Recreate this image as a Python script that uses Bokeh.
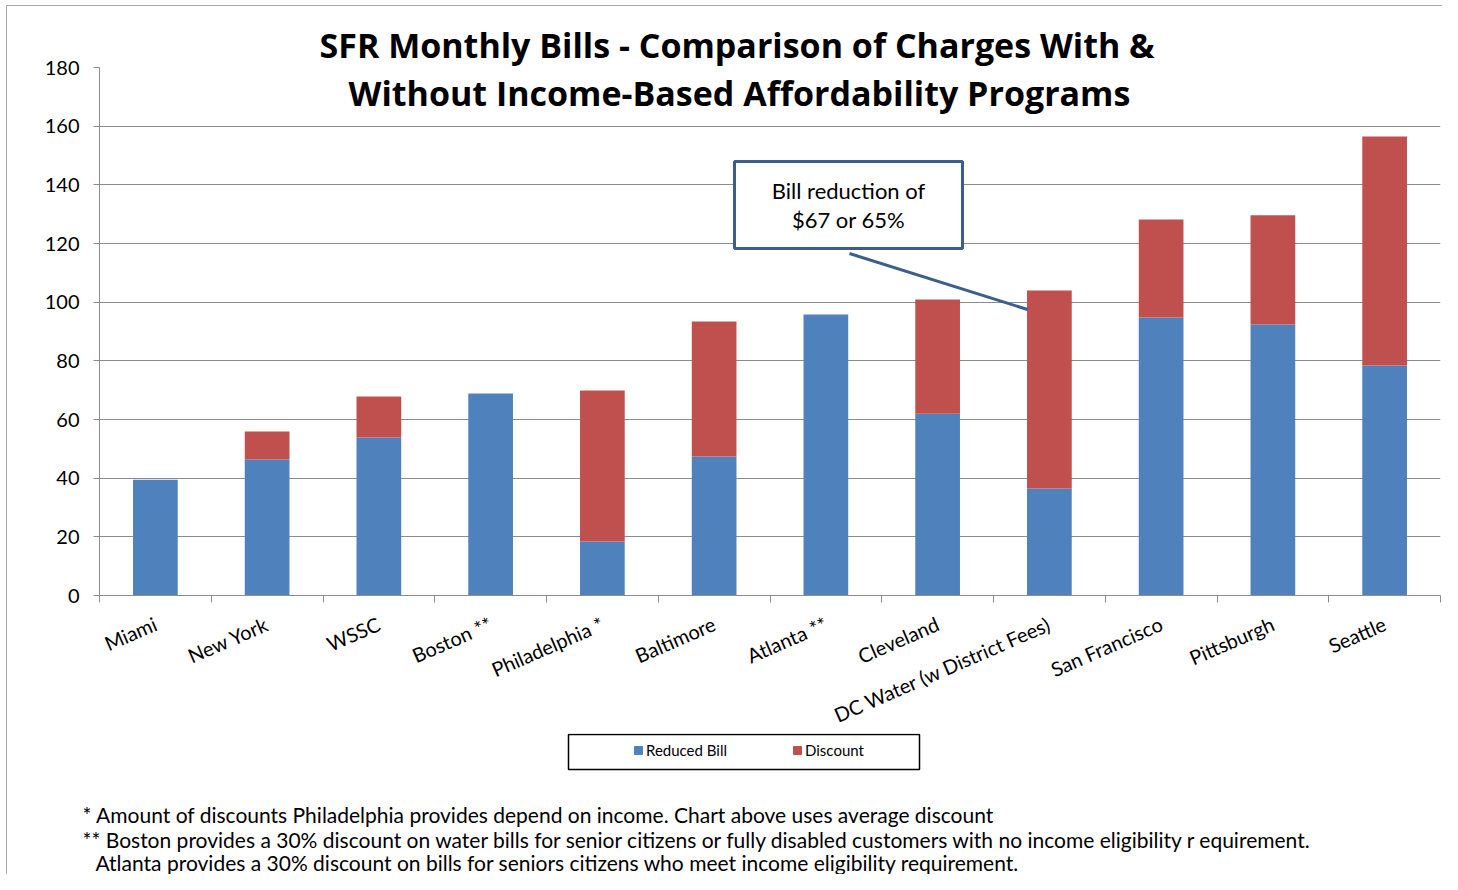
from bokeh.plotting import figure
from bokeh.models import (FixedTicker, LinearAxis, Range1d, Legend, LegendItem, Label, Title,
                          BoxAnnotation, Arrow, ColumnDataSource, Grid)
from bokeh.layouts import column
from bokeh.embed import file_html
from bokeh.resources import INLINE

# ---------------- data ----------------
cities = ["Miami", "New York", "WSSC", "Boston **", "Philadelphia *", "Baltimore",
          "Atlanta **", "Cleveland", "DC Water (w District Fees)", "San Francisco",
          "Pittsburgh", "Seattle"]
reduced_bill = [39.5, 46.4, 53.9, 68.9, 18.4, 47.4, 95.8, 62.0, 36.5, 94.8, 92.4, 78.4]
discount = [0.0, 9.5, 13.9, 0.0, 51.5, 46.0, 0.0, 38.9, 67.5, 33.4, 37.2, 78.1]
y_ticks = [0, 20, 40, 60, 80, 100, 120, 140, 160, 180]
series_names = ["Reduced Bill", "Discount"]
series_colors = ["#4F81BD", "#C0504D"]
title_lines = ["SFR Monthly Bills - Comparison of Charges With &",
               "Without Income-Based Affordability Programs"]
callout_lines = ["Bill reduction of", "$67 or 65%"]
footnotes = ["* Amount of discounts Philadelphia provides depend on income. Chart above uses average discount",
             "** Boston provides a 30% discount on water bills for senior citizens or fully disabled customers with no income eligibility r equirement.",
             "Atlanta provides a 30% discount on bills for seniors citizens who meet income eligibility requirement."]

FONT = "Lato"
TFONT = "Open Sans"
GRID = "#8c8c8c"
W = 1442
MAIN_BOTTOM = 733   # bottom of main chart figure (page px)
TOTAL_H = 874

n = len(cities)
idx = list(range(n))
src = ColumnDataSource(dict(x=idx, reduced=reduced_bill, discount=discount))

# ---------------- main chart ----------------
FL, FR, FT, FB = 99, 1440, 67, 595
p = figure(width=W, height=MAIN_BOTTOM, output_backend="svg", toolbar_location=None,
           x_range=Range1d(-0.5, n - 0.5), y_range=Range1d(0, 180),
           x_axis_type=None, y_axis_type=None,
           min_border_left=FL, min_border_right=W - FR, min_border_top=FT,
           min_border_bottom=MAIN_BOTTOM - FB)
p.outline_line_color = None
p.background_fill_color = "white"
p.border_fill_alpha = 0

def xd(sx):
    return (sx - FL) / (FR - FL) * n - 0.5

def yd(sy):
    return (FB - sy) / (FB - FT) * 180

p.add_layout(Title(text=title_lines[0], align="left", offset=220, vertical_align="bottom",
                   standoff=0, text_font=TFONT, text_font_style="bold",
                   text_font_size="34px", text_color="black"), "above")

yax = LinearAxis(ticker=FixedTicker(ticks=y_ticks, minor_ticks=[]))
yax.axis_line_color = GRID
yax.major_tick_line_color = GRID
yax.major_tick_out = 6
yax.major_tick_in = 0
yax.major_label_standoff = 14
yax.major_label_text_font = FONT
yax.major_label_text_font_size = "20px"
yax.major_label_text_color = "black"
p.add_layout(yax, "left")

xax = LinearAxis(ticker=FixedTicker(ticks=idx, minor_ticks=[i - 0.5 for i in range(n + 1)]))
xax.major_label_overrides = {i: c for i, c in zip(idx, cities)}
xax.axis_line_color = GRID
xax.major_tick_line_color = None
xax.major_tick_out = 0
xax.major_tick_in = 0
xax.minor_tick_line_color = GRID
xax.minor_tick_out = 7
xax.minor_tick_in = 0
xax.major_label_orientation = 0.41
xax.major_label_standoff = 20
xax.major_label_text_font = FONT
xax.major_label_text_font_size = "20px"
xax.major_label_text_color = "black"
# keep the axis panel compact so the plot frame keeps its full height
xax.axis_label = " "
xax.axis_label_text_font_size = "1px"
xax.axis_label_standoff = -16
p.add_layout(xax, "below")

p.add_layout(Grid(dimension=1, ticker=FixedTicker(ticks=y_ticks), grid_line_color=GRID))

rs = p.vbar_stack(["reduced", "discount"], x="x", width=0.4, source=src,
                  color=series_colors, line_color=None)

p.add_layout(Label(x=xd(739), y=yd(92), text=title_lines[1], text_align="center",
                   text_baseline="middle", text_font=TFONT, text_font_style="bold",
                   text_font_size="34px", text_color="black"))

# callout
p.add_layout(Arrow(end=None, x_start=xd(849), y_start=yd(253), x_end=xd(1027), y_end=yd(309),
                   line_color="#3B5E8C", line_width=3))
p.add_layout(BoxAnnotation(left=xd(734), right=xd(962), top=yd(161), bottom=yd(248),
                           fill_color="white", fill_alpha=1, line_color="#3B5E8C",
                           line_alpha=1, line_width=3, level="overlay"))
for line, sy in zip(callout_lines, [190, 219]):
    p.add_layout(Label(x=xd(848), y=yd(sy), text=line, text_align="center",
                       text_baseline="middle", text_font=FONT, text_font_size="22px",
                       text_color="black", level="overlay"))

# ---------------- footer: legend + footnotes ----------------
foot = figure(width=W, height=TOTAL_H - MAIN_BOTTOM, output_backend="svg", toolbar_location=None,
              x_range=Range1d(0, W), y_range=Range1d(TOTAL_H, MAIN_BOTTOM),
              x_axis_type=None, y_axis_type=None, min_border=0)
foot.outline_line_color = None
foot.background_fill_alpha = 0
foot.border_fill_alpha = 0
foot.xgrid.visible = False
foot.ygrid.visible = False

swatch = ColumnDataSource(dict(x=[float("nan")], y=[float("nan")]))
lr = [foot.rect(x="x", y="y", width=1, height=1, source=swatch, color=c) for c in series_colors]
legend = Legend(items=[LegendItem(label=series_names[i], renderers=[lr[i]]) for i in range(2)],
                orientation="horizontal", location=(633, TOTAL_H - 751 - 8),
                padding=0, margin=0, spacing=65, label_standoff=3,
                glyph_width=10, glyph_height=10, label_height=16,
                label_text_font=FONT, label_text_font_size="15px", label_text_color="black",
                border_line_color=None, background_fill_alpha=0)
foot.add_layout(legend)
foot.add_layout(BoxAnnotation(left=568, right=919, top=734, bottom=769,
                              fill_alpha=0, line_color="black", line_alpha=1, line_width=1.5))
for line, sx, sy in zip(footnotes, [82, 82, 95], [814, 839, 862]):
    foot.add_layout(Label(x=sx, y=sy, text=line, text_align="left",
                          text_baseline="middle", text_font=FONT, text_font_size="21px",
                          text_color="black"))

border_bg = ("linear-gradient(#a8a8a8,#a8a8a8) 6px 5px / 1px 100% no-repeat, "
             "linear-gradient(#a8a8a8,#a8a8a8) 6px 5px / 100% 1px no-repeat, #ffffff")
layout = column(p, column(foot), spacing=0, styles={"background": border_bg})

open("out.html", "w").write(file_html(layout, INLINE))
